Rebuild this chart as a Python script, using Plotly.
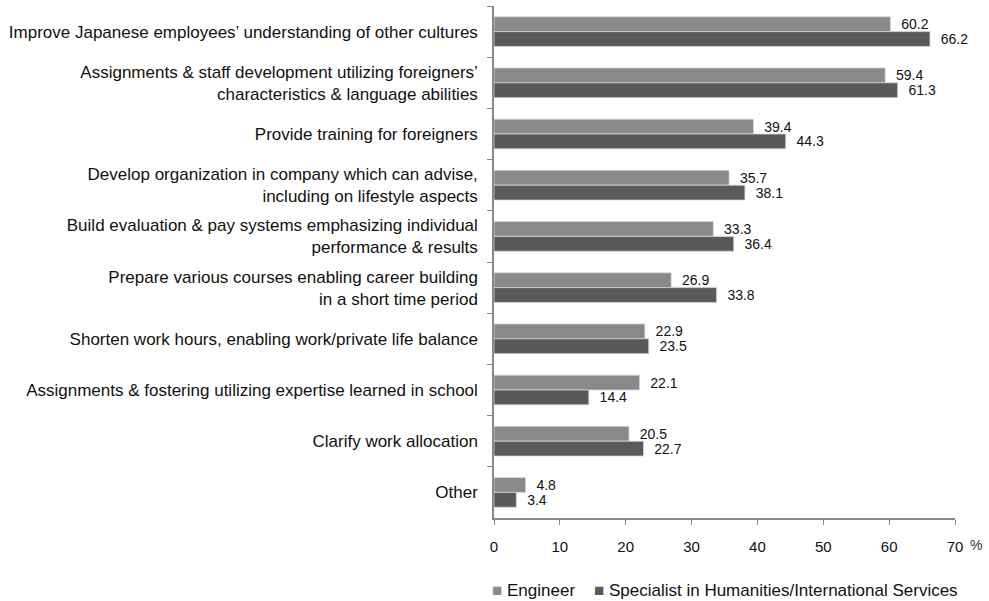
import plotly.graph_objects as go

categories = [
    "Improve Japanese employees’ understanding of other cultures",
    "Assignments & staff development utilizing foreigners’<br>characteristics & language abilities",
    "Provide training for foreigners",
    "Develop organization in company which can advise,<br>including on lifestyle aspects",
    "Build evaluation & pay systems emphasizing individual<br>performance & results",
    "Prepare various courses enabling career building<br>in a short time period",
    "Shorten work hours, enabling work/private life balance",
    "Assignments & fostering utilizing expertise learned in school",
    "Clarify work allocation",
    "Other",
]
engineer = [60.2, 59.4, 39.4, 35.7, 33.3, 26.9, 22.9, 22.1, 20.5, 4.8]
specialist = [66.2, 61.3, 44.3, 38.1, 36.4, 33.8, 23.5, 14.4, 22.7, 3.4]
x_ticks = [0, 10, 20, 30, 40, 50, 60, 70]

series = [
    ("Engineer", engineer, "#898989"),
    ("Specialist in Humanities/International Services", specialist, "#595959"),
]

FONT = "Liberation Sans"
NBSP = "\u00a0"

fig = go.Figure()
for name, vals, color in series:
    fig.add_trace(go.Bar(
        name=name,
        y=categories,
        x=vals,
        orientation="h",
        marker=dict(color=color, line=dict(color="#d8d8d8", width=0.8)),
        text=[f"{NBSP}{NBSP}{v:.1f}" for v in vals],
        textposition="outside",
        constraintext="none",
        textfont=dict(family=FONT, size=14, color="#111111"),
        cliponaxis=False,
        showlegend=False,
    ))

fig.update_layout(
    width=989,
    height=601,
    margin=dict(l=494, r=34, t=6, b=83, autoexpand=False),
    barmode="group",
    bargap=0.42,
    bargroupgap=0,
    plot_bgcolor="white",
    paper_bgcolor="white",
    font=dict(family=FONT, size=17, color="#111111"),
    showlegend=False,
    xaxis=dict(
        range=[0, 70],
        tickvals=x_ticks,
        ticks="outside",
        ticklen=5,
        tickcolor="#888888",
        showline=True,
        linecolor="#888888",
        linewidth=1.5,
        showgrid=False,
        zeroline=False,
        ticklabelstandoff=9,
        tickfont=dict(family=FONT, size=15, color="#111111"),
    ),
    yaxis=dict(
        type="category",
        autorange="reversed",
        ticks="outside",
        tickson="boundaries",
        ticklen=5,
        tickcolor="#888888",
        showline=True,
        linecolor="#888888",
        linewidth=1.5,
        showgrid=False,
        ticklabelstandoff=11,
        tickfont=dict(family=FONT, size=17, color="#111111"),
    ),
)

# unit label beside the last x tick
fig.add_annotation(
    text="%",
    xref="paper", yref="paper",
    x=1.0, y=0,
    xshift=21, yshift=-27,
    xanchor="center", yanchor="middle",
    showarrow=False,
    font=dict(family=FONT, size=14, color="#333333"),
)

# legend line below the axis, drawn as coloured squares with series names
legend_text = (NBSP * 4).join(
    f"<span style='color:{color}'>■</span>{NBSP}{name}" for name, _, color in series
)
fig.add_annotation(
    text=legend_text,
    xref="paper", yref="paper",
    x=0.5, y=0,
    yshift=-72,
    xanchor="center", yanchor="middle",
    showarrow=False,
    font=dict(family=FONT, size=17, color="#111111"),
)

fig.write_html("out.html")
